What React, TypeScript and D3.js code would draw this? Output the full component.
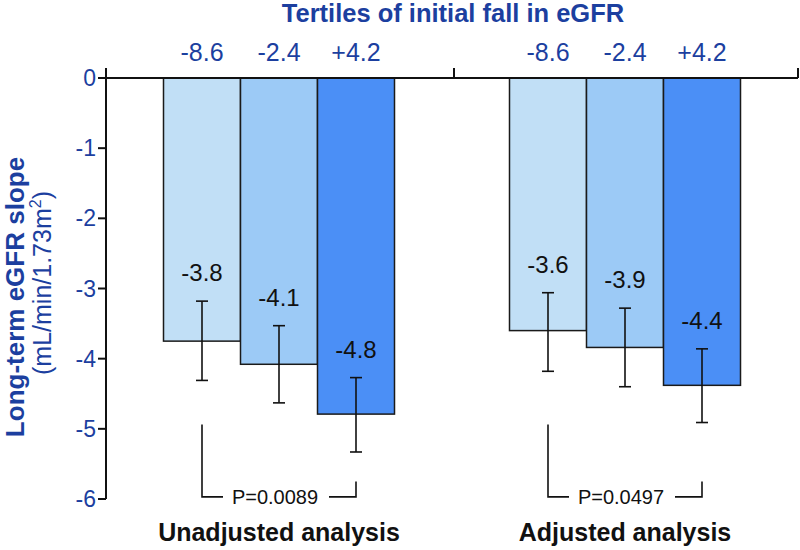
import React, { useEffect, useRef } from "react";
import * as d3 from "d3";

const groups = ["Unadjusted analysis", "Adjusted analysis"];
const tertiles = ["-8.6", "-2.4", "+4.2"];
const unadjustedValues = [-3.75, -4.08, -4.79];
const adjustedValues = [-3.6, -3.84, -4.38];
const unadjustedLabels = ["-3.8", "-4.1", "-4.8"];
const adjustedLabels = ["-3.6", "-3.9", "-4.4"];
const unadjustedErrLow = [-4.31, -4.63, -5.33];
const unadjustedErrHigh = [-3.18, -3.53, -4.27];
const adjustedErrLow = [-4.18, -4.4, -4.91];
const adjustedErrHigh = [-3.06, -3.28, -3.86];
const pValues = ["P=0.0089", "P=0.0497"];
const yTicks = [0, -1, -2, -3, -4, -5, -6];
const barColors = ["#c1dff6", "#9ccaf6", "#4b8ff6"];

const BLUE = "#1c3f9f";
const FONT = "Liberation Sans, Arial, Helvetica, sans-serif";

export default function App() {
  const ref = useRef<SVGSVGElement | null>(null);

  useEffect(() => {
    const svg = d3.select(ref.current);
    svg.selectAll("*").remove();

    const axisX = 106;
    const rightX = 798;
    const y = d3.scaleLinear().domain([0, -6]).range([78, 499]);
    const gx = d3.scaleBand<string>().domain(groups).range([axisX, rightX]).padding(0);
    const innerWidth = 231;

    const series = [
      { vals: unadjustedValues, labels: unadjustedLabels, lo: unadjustedErrLow, hi: unadjustedErrHigh },
      { vals: adjustedValues, labels: adjustedLabels, lo: adjustedErrLow, hi: adjustedErrHigh },
    ];

    // Title
    svg
      .append("text")
      .attr("x", 453)
      .attr("y", 22)
      .attr("text-anchor", "middle")
      .attr("font-family", FONT)
      .attr("font-weight", "bold")
      .attr("font-size", 25.5)
      .attr("fill", BLUE)
      .text("Tertiles of initial fall in eGFR");

    // Y axis title
    svg
      .append("text")
      .attr("transform", "translate(24,297) rotate(-90)")
      .attr("text-anchor", "middle")
      .attr("font-family", FONT)
      .attr("font-weight", "bold")
      .attr("font-size", 26)
      .attr("fill", BLUE)
      .text("Long-term eGFR slope");
    const unit = svg
      .append("text")
      .attr("transform", "translate(51,283) rotate(-90)")
      .attr("text-anchor", "middle")
      .attr("font-family", FONT)
      .attr("font-size", 25)
      .attr("fill", BLUE);
    unit.append("tspan").text("(mL/min/1.73m");
    unit.append("tspan").attr("font-size", 16).attr("dy", -10).text("2");
    unit.append("tspan").attr("dy", 10).text(")");

    groups.forEach((g, gi) => {
      const s = series[gi];
      const center = (gx(g) as number) + gx.bandwidth() / 2;
      const bx = d3
        .scaleBand<string>()
        .domain(tertiles)
        .range([center - innerWidth / 2, center + innerWidth / 2])
        .padding(0);
      const grp = svg.append("g");

      // bars
      grp
        .selectAll("rect")
        .data(tertiles)
        .enter()
        .append("rect")
        .attr("x", (d) => bx(d) as number)
        .attr("y", y(0))
        .attr("width", bx.bandwidth())
        .attr("height", (d, i) => y(s.vals[i]) - y(0))
        .attr("fill", (d, i) => barColors[i])
        .attr("stroke", "#1a1a1a")
        .attr("stroke-width", 1.5);

      // tertile labels
      grp
        .selectAll("text.tert")
        .data(tertiles)
        .enter()
        .append("text")
        .attr("class", "tert")
        .attr("x", (d) => (bx(d) as number) + bx.bandwidth() / 2)
        .attr("y", 61)
        .attr("text-anchor", "middle")
        .attr("font-family", FONT)
        .attr("font-size", 25)
        .attr("fill", BLUE)
        .text((d) => d);

      // error bars
      tertiles.forEach((t, i) => {
        const cx = (bx(t) as number) + bx.bandwidth() / 2;
        const y1 = y(s.hi[i]);
        const y2 = y(s.lo[i]);
        grp.append("line").attr("x1", cx).attr("x2", cx).attr("y1", y1).attr("y2", y2).attr("stroke", "#111").attr("stroke-width", 1.6);
        [y1, y2].forEach((yy) =>
          grp.append("line").attr("x1", cx - 6).attr("x2", cx + 6).attr("y1", yy).attr("y2", yy).attr("stroke", "#111").attr("stroke-width", 1.6)
        );
        grp
          .append("text")
          .attr("x", cx)
          .attr("y", y1 - 20)
          .attr("text-anchor", "middle")
          .attr("font-family", FONT)
          .attr("font-size", 24)
          .attr("fill", "#111")
          .text(s.labels[i]);
      });

      // p-value bracket
      const xL = (bx(tertiles[0]) as number) + bx.bandwidth() / 2;
      const xR = (bx(tertiles[2]) as number) + bx.bandwidth() / 2;
      const yb = y(-5.97);
      grp
        .append("path")
        .attr("d", `M${xL},${y(-4.94)}V${yb}H${center - 56}`)
        .attr("fill", "none")
        .attr("stroke", "#111")
        .attr("stroke-width", 1.6);
      grp
        .append("path")
        .attr("d", `M${center + 50},${yb}H${xR}V${y(-5.75)}`)
        .attr("fill", "none")
        .attr("stroke", "#111")
        .attr("stroke-width", 1.6);
      grp
        .append("text")
        .attr("x", center - 4)
        .attr("y", yb + 7)
        .attr("text-anchor", "middle")
        .attr("font-family", FONT)
        .attr("font-size", 20)
        .attr("fill", "#111")
        .text(pValues[gi]);

      // group label
      grp
        .append("text")
        .attr("x", center)
        .attr("y", 541)
        .attr("text-anchor", "middle")
        .attr("font-family", FONT)
        .attr("font-weight", "bold")
        .attr("font-size", 25)
        .attr("fill", "#111")
        .text(g);
    });

    // axes
    const ax = svg.append("g").attr("stroke", "#111").attr("stroke-width", 2);
    ax.append("line").attr("x1", axisX).attr("x2", axisX).attr("y1", 68).attr("y2", y(-6));
    ax.append("line").attr("x1", axisX).attr("x2", rightX).attr("y1", y(0)).attr("y2", y(0));
    ax.append("line").attr("x1", 454).attr("x2", 454).attr("y1", 68).attr("y2", y(0));
    ax.append("line").attr("x1", rightX).attr("x2", rightX).attr("y1", 68).attr("y2", y(0));
    yTicks.forEach((t) => {
      ax.append("line").attr("x1", axisX - 8).attr("x2", axisX).attr("y1", y(t)).attr("y2", y(t));
      svg
        .append("text")
        .attr("x", axisX - 10)
        .attr("y", y(t) + 8)
        .attr("text-anchor", "end")
        .attr("font-family", FONT)
        .attr("font-size", 23)
        .attr("fill", BLUE)
        .text(String(t));
    });
  }, []);

  return (
    <svg
      ref={ref}
      width={800}
      height={550}
      style={{ position: "absolute", left: 0, top: 0, background: "#fff" }}
    />
  );
}
